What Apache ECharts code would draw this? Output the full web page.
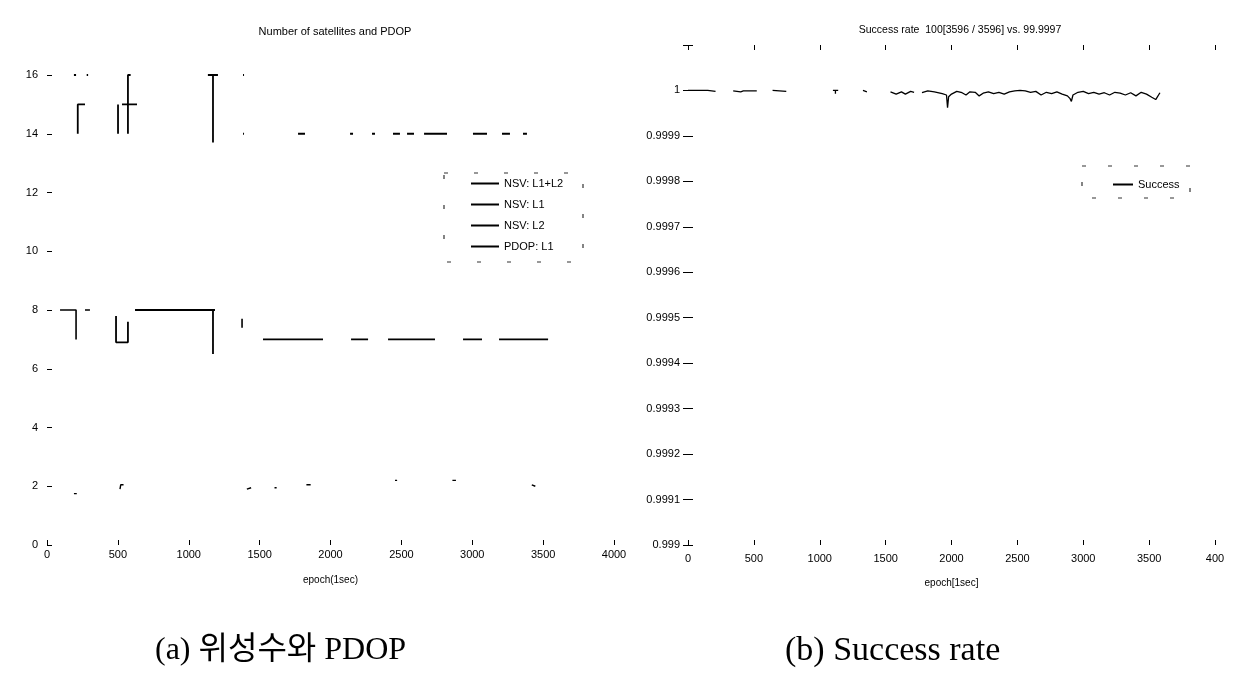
<!DOCTYPE html>
<html>
<head>
<meta charset="utf-8">
<title>Number of satellites and PDOP / Success rate</title>
<script src="https://cdn.jsdelivr.net/npm/echarts@6/dist/echarts.min.js"></script>
<style>
  html, body { margin: 0; padding: 0; background: #fff; }
  #chart { width: 1246px; height: 693px; }
</style>
</head>
<body>
<div id="chart"></div>
<script>
// epoch ticks (both panels)
const epochTicks = [0, 500, 1000, 1500, 2000, 2500, 3000, 3500, 4000];
const rightEpochLabels = ['0', '500', '1000', '1500', '2000', '2500', '3000', '3500', '400'];

// (a) values, [epoch, value]; each inner list is one visible piece
const nsvL1L2 = [
  [[190, 16], [205, 16]],
  [[217, 14], [217, 15], [268, 15]],
  [[280, 16], [290, 16]],
  [[501, 14], [501, 15]],
  [[529, 15], [635, 15]],
  [[571, 14], [571, 16], [590, 16]],
  [[1135, 16], [1206, 16]],
  [[1171, 16], [1171, 13.7]],
  [[1383, 16], [1390, 16]],
  [[1383, 14], [1390, 14]],
  [[1771, 14], [1820, 14]],
  [[2138, 14], [2159, 14]],
  [[2293, 14], [2314, 14]],
  [[2441, 14], [2490, 14]],
  [[2540, 14], [2589, 14]],
  [[2660, 14], [2822, 14]],
  [[3005, 14], [3104, 14]],
  [[3210, 14], [3266, 14]],
  [[3358, 14], [3386, 14]]
];
const nsvL1 = [
  [[92, 8], [205, 8], [205, 7]],
  [[268, 8], [303, 8]],
  [[1376, 7.4], [1376, 7.7]],
  [[1524, 7], [1947, 7]],
  [[2145, 7], [2265, 7]],
  [[2406, 7], [2737, 7]],
  [[2935, 7], [3069, 7]],
  [[3189, 7], [3535, 7]]
];
const nsvL2 = [
  [[487, 7.8], [487, 6.9], [571, 6.9], [571, 7.6]],
  [[621, 8], [1185, 8]],
  [[1171, 8], [1171, 6.5]]
];
const pdopL1 = [
  [[190, 1.75], [210, 1.75]],
  [[515, 1.9], [520, 2.05], [540, 2.05]],
  [[1410, 1.9], [1440, 1.95]],
  [[1605, 1.95], [1620, 1.95]],
  [[1830, 2.05], [1860, 2.05]],
  [[2455, 2.2], [2470, 2.2]],
  [[2860, 2.2], [2885, 2.2]],
  [[3420, 2.05], [3445, 2.0]]
];

// (b) success rate
const success = [
  [[0, 1], [150, 1], [209, 0.999998]],
  [[343, 0.999999], [400, 0.999997], [420, 0.999999], [522, 0.999999]],
  [[642, 1], [746, 0.999998]],
  [[1100, 1], [1140, 1]],
  [[1119, 1], [1119, 0.999993]],
  [[1328, 1], [1358, 0.999997]],
  [[1537, 0.999997], [1580, 0.999992], [1620, 0.999997], [1650, 0.999992],
   [1690, 0.999998], [1716, 0.999996]],
  [[1776, 0.999995], [1820, 0.999999], [1870, 0.999997], [1930, 0.999993],
   [1962, 0.99999], [1970, 0.999962], [1978, 0.999986], [2000, 0.999992],
   [2040, 0.999998], [2080, 0.999995], [2110, 0.99999], [2140, 0.999997],
   [2180, 0.999996], [2210, 0.999988], [2240, 0.999994], [2280, 0.999997],
   [2320, 0.999993], [2360, 0.999996], [2400, 0.999992], [2440, 0.999997],
   [2480, 0.999999], [2520, 1], [2560, 0.999999], [2600, 0.999996],
   [2640, 0.999998], [2680, 0.99999], [2720, 0.999996], [2760, 0.999993],
   [2800, 0.999997], [2840, 0.999992], [2880, 0.999988], [2900, 0.999982],
   [2910, 0.999976], [2922, 0.99999], [2960, 0.999996], [3000, 0.999998],
   [3040, 0.999993], [3080, 0.999996], [3120, 0.999992], [3160, 0.999995],
   [3200, 0.99999], [3240, 0.999996], [3280, 0.999994], [3320, 0.99999],
   [3360, 0.999995], [3400, 0.999988], [3440, 0.999996], [3480, 0.999992],
   [3520, 0.999985], [3550, 0.99998], [3582, 0.999995]]
];

// join the pieces with breaks so the line is not drawn across gaps
function pieces(list) {
  const out = [];
  list.forEach((seg, i) => {
    if (i > 0) out.push([seg[0][0], '-']);
    seg.forEach(p => out.push(p));
  });
  return out;
}

const font = 'Liberation Sans, Arial, sans-serif';
const txt = { color: '#000', fontFamily: font, fontSize: 11 };
const tick = { show: true, inside: true, length: 5, lineStyle: { color: '#000', width: 1 } };

function lineSeries(name, data, x, y, w) {
  return {
    name: name, type: 'line', data: pieces(data),
    xAxisIndex: x, yAxisIndex: y,
    symbol: 'none', connectNulls: false, animation: false,
    color: '#000',
    itemStyle: { color: '#000' },
    lineStyle: { color: '#000', width: w || 1.6 }
  };
}

const chart = echarts.init(document.getElementById('chart'));
chart.setOption({
  animation: false,
  color: ['#000'],
  title: [
    { text: 'Number of satellites and PDOP', left: 330, top: 21, textAlign: 'center',
      textStyle: { fontSize: 11, fontWeight: 'normal', color: '#000', fontFamily: font } },
    { text: 'Success rate  100[3596 / 3596] vs. 99.9997', left: 955, top: 20, textAlign: 'center',
      textStyle: { fontSize: 10.5, fontWeight: 'normal', color: '#000', fontFamily: font } }
  ],
  legend: [
    {
      data: [
        { name: 'NSV: L1+L2', icon: 'rect' },
        { name: 'NSV: L1', icon: 'rect' },
        { name: 'NSV: L2', icon: 'rect' },
        { name: 'PDOP: L1', icon: 'rect' }
      ],
      orient: 'vertical', left: 466, top: 172, itemWidth: 28, itemHeight: 2, itemGap: 8,
      itemStyle: { color: '#000' },
      textStyle: { fontSize: 11, color: '#000', fontFamily: font, lineHeight: 13 }
    },
    {
      data: [{ name: 'Success', icon: 'rect' }],
      orient: 'vertical', left: 1108, top: 174, itemWidth: 20, itemHeight: 2,
      itemStyle: { color: '#000' },
      textStyle: { fontSize: 11, color: '#000', fontFamily: font }
    }
  ],
  grid: [
    { left: 47, right: 632, top: 75, bottom: 148 },
    { left: 688, right: 31, top: 45, bottom: 148 }
  ],
  xAxis: [
    { type: 'value', gridIndex: 0, min: 0, max: 4000, interval: 500,
      name: 'epoch(1sec)', nameLocation: 'middle', nameGap: 30,
      nameTextStyle: { fontSize: 10, color: '#000', fontFamily: font },
      axisLine: { show: false }, axisTick: tick, splitLine: { show: false },
      axisLabel: Object.assign({ margin: 4, formatter: v => String(v) }, txt) },
    { type: 'value', gridIndex: 1, min: 0, max: 4000, interval: 500,
      name: 'epoch[1sec]', nameLocation: 'middle', nameGap: 33,
      nameTextStyle: { fontSize: 10, color: '#000', fontFamily: font },
      axisLine: { show: false }, axisTick: tick, splitLine: { show: false },
      axisLabel: Object.assign({ margin: 8,
        formatter: v => rightEpochLabels[epochTicks.indexOf(v)] }, txt) },
    { type: 'value', gridIndex: 1, position: 'top', min: 0, max: 4000, interval: 500,
      axisLine: { show: false }, axisTick: tick, splitLine: { show: false },
      axisLabel: { show: false } }
  ],
  yAxis: [
    { type: 'value', gridIndex: 0, min: 0, max: 16, interval: 2,
      axisLine: { show: false }, axisTick: tick, splitLine: { show: false },
      axisLabel: Object.assign({ margin: 9 }, txt) },
    { type: 'value', gridIndex: 1, min: 0.999, max: 1.0001, interval: 0.0001,
      axisLine: { show: false }, axisTick: tick, splitLine: { show: false },
      axisLabel: Object.assign({ margin: 8,
        formatter: v => (v > 1.00005 ? '' : String(+v.toFixed(4))) }, txt) },
    { type: 'value', gridIndex: 1, position: 'right', min: 0.999, max: 1.0001, interval: 0.0001,
      axisLine: { show: false }, axisTick: tick, splitLine: { show: false },
      axisLabel: { show: false } }
  ],
  series: [
    lineSeries('NSV: L1+L2', nsvL1L2, 0, 0, 1.8),
    lineSeries('NSV: L1', nsvL1, 0, 0, 1.6),
    lineSeries('NSV: L2', nsvL2, 0, 0, 1.8),
    lineSeries('PDOP: L1', pdopL1, 0, 0, 1.4),
    lineSeries('Success', success, 1, 1, 1.3)
  ],
  graphic: [
    { type: 'rect', shape: { x: 444, y: 173, width: 139, height: 89 },
      style: { fill: 'none', stroke: '#333', lineWidth: 1.2, lineDash: [4, 26] } },
    { type: 'rect', shape: { x: 1082, y: 166, width: 108, height: 32 },
      style: { fill: 'none', stroke: '#333', lineWidth: 1.2, lineDash: [4, 22] } },
    { type: 'text', left: 155, top: 635,
      style: { text: '(a) 위성수와 PDOP', fill: '#000', fontSize: 32,
        fontFamily: 'Liberation Serif, "Noto Sans CJK KR", serif' } },
    { type: 'text', left: 785, top: 634,
      style: { text: '(b) Success rate', fill: '#000', fontSize: 34,
        fontFamily: 'Liberation Serif, serif' } }
  ]
});
</script>
</body>
</html>
